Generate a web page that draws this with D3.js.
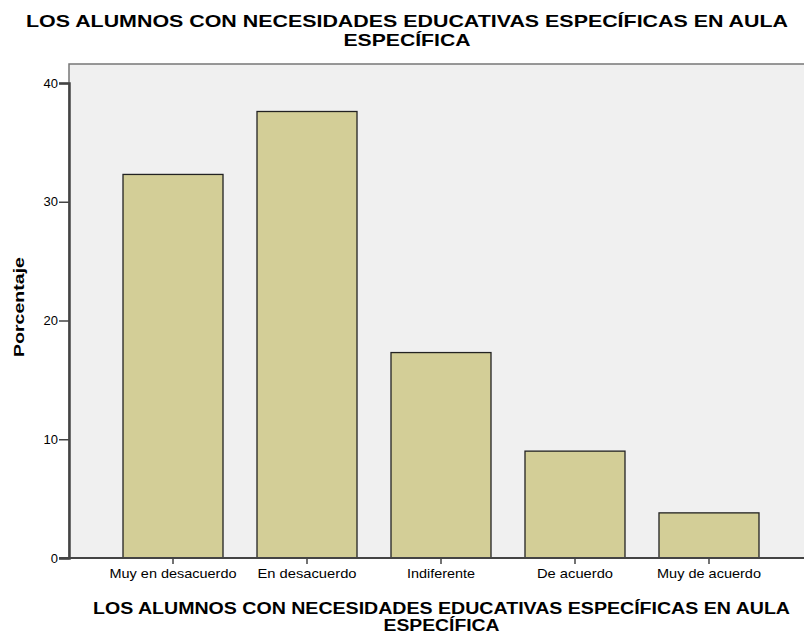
<!DOCTYPE html>
<html><head><meta charset="utf-8">
<script src="https://cdn.jsdelivr.net/npm/d3@7"></script>
<style>body{margin:0;background:#fff}svg{display:block}text{font-family:"Liberation Sans",Arial,sans-serif}</style>
</head><body>
<script>
const categories = ["Muy en desacuerdo","En desacuerdo","Indiferente","De acuerdo","Muy de acuerdo"];
const values = [32.3, 37.6, 17.3, 9.0, 3.8];
const yTicks = [0,10,20,30,40];
const titleLines = ["LOS ALUMNOS CON NECESIDADES EDUCATIVAS ESPECÍFICAS EN AULA","ESPECÍFICA"];
const yTitle = "Porcentaje";

const W=804,H=635;
const svg=d3.select("body").append("svg").attr("width",W).attr("height",H);
const plot={l:69,r:806,t:64,b:558};
const x=d3.scaleBand().domain(categories).range([106,776]).paddingInner(0.2537).paddingOuter(0.1269);
const y=d3.scaleLinear().domain([0,40]).range([558,83]);

svg.append("rect").attr("x",plot.l).attr("y",plot.t).attr("width",plot.r-plot.l).attr("height",plot.b-plot.t)
  .attr("fill","#f0f0f0").attr("stroke","#777").attr("stroke-width",1.5);

svg.selectAll(".bar").data(values).enter().append("rect")
  .attr("x",(d,i)=>x(categories[i])).attr("width",x.bandwidth())
  .attr("y",d=>y(d)).attr("height",d=>y(0)-y(d))
  .attr("fill","#d3ce97").attr("stroke","#222").attr("stroke-width",1.3);

const ya=svg.append("g").attr("transform",`translate(${plot.l},0)`)
  .call(d3.axisLeft(y).tickValues(yTicks).tickSize(10).tickPadding(1).tickFormat(d3.format("d")));
ya.select(".domain").attr("stroke","#444").attr("stroke-width",2.5);
ya.selectAll(".tick line").attr("stroke","#444").attr("stroke-width",1.5);
ya.selectAll(".tick text").attr("font-size",13).attr("fill","#000").attr("font-family","Liberation Sans, Arial, sans-serif");

const xa=svg.append("g").attr("transform",`translate(0,${plot.b})`)
  .call(d3.axisBottom(x).tickSize(6).tickPadding(5).tickSizeOuter(0));
xa.select(".domain").attr("stroke","#444").attr("stroke-width",2).attr("d",`M59,0H${W}`);
xa.selectAll(".tick line").attr("stroke","#444").attr("stroke-width",1.5);
xa.selectAll(".tick text").attr("font-size",13).attr("fill","#000").attr("font-family","Liberation Sans, Arial, sans-serif")
  .attr("textLength",(d)=>({"Muy en desacuerdo":127,"En desacuerdo":99,"Indiferente":68,"De acuerdo":76,"Muy de acuerdo":104})[d])
  .attr("lengthAdjust","spacingAndGlyphs");

svg.append("text").attr("x",407).attr("y",27).attr("text-anchor","middle")
  .attr("font-size",17).attr("font-weight","bold")
  .attr("textLength",762).attr("lengthAdjust","spacingAndGlyphs").text(titleLines[0]);
svg.append("text").attr("x",407).attr("y",46).attr("text-anchor","middle")
  .attr("font-size",17).attr("font-weight","bold")
  .attr("textLength",127).attr("lengthAdjust","spacingAndGlyphs").text(titleLines[1]);

svg.append("text").attr("x",441.5).attr("y",614).attr("text-anchor","middle")
  .attr("font-size",16).attr("font-weight","bold")
  .attr("textLength",697).attr("lengthAdjust","spacingAndGlyphs").text(titleLines[0]);
svg.append("text").attr("x",441.5).attr("y",631).attr("text-anchor","middle")
  .attr("font-size",16).attr("font-weight","bold")
  .attr("textLength",116).attr("lengthAdjust","spacingAndGlyphs").text(titleLines[1]);

svg.append("text").attr("transform","translate(24,307) rotate(-90)").attr("text-anchor","middle")
  .attr("font-size",14).attr("font-weight","bold")
  .attr("textLength",100).attr("lengthAdjust","spacingAndGlyphs").text(yTitle);
</script>
</body></html>
